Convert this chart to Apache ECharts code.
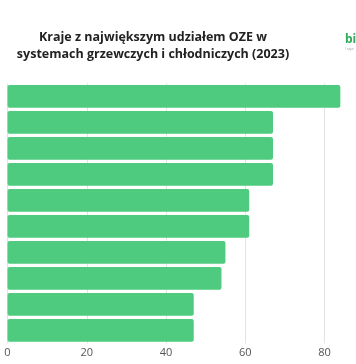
<!DOCTYPE html>
<html>
<head>
<meta charset="utf-8">
<script src="https://cdn.jsdelivr.net/npm/echarts@6/dist/echarts.min.js"></script>
<style>html,body{margin:0;padding:0;background:#fff;}#c{width:356px;height:364px;}</style>
</head>
<body>
<div id="c"></div>
<script>
var categories = ['Islandia', 'Szwecja', 'Estonia', 'Finlandia', 'Łotwa', 'Litwa', 'Dania', 'Portugalia', 'Austria', 'Chorwacja'];
var values = [84, 67, 67, 67, 61, 61, 55, 54, 47, 47];
var xTicks = [0, 20, 40, 60, 80, 100];

var chart = echarts.init(document.getElementById('c'), null, {renderer: 'canvas'});
chart.setOption({
  animation: false,
  backgroundColor: '#ffffff',
  title: {
    text: 'Kraje z największym udziałem OZE w\nsystemach grzewczych i chłodniczych (2023)',
    left: 148, top: 24, textAlign: 'center',
    textStyle: {fontFamily: 'Open Sans', fontWeight: 'bold', fontSize: 12.5, lineHeight: 17, color: '#222'}
  },
  graphic: [
    {type: 'text', left: 345, top: 34, style: {text: 'bi', fill: '#2eaa5a', font: 'bold 12px "Open Sans"'}},
    {type: 'text', left: 345, top: 48, style: {text: '/ najw', fill: '#999', font: '3px "Open Sans"'}}
  ],
  grid: {left: 7.5, top: 83.4, width: 396.25, height: 260, containLabel: false, outerBoundsMode: 'none'},
  xAxis: {
    type: 'value', min: xTicks[0], max: xTicks[xTicks.length - 1], interval: 20,
    axisLine: {show: false}, axisTick: {show: false},
    splitLine: {show: true, lineStyle: {color: '#e3e3e3', width: 1}},
    axisLabel: {margin: 4, fontFamily: 'Open Sans', fontSize: 11, color: '#555'}
  },
  yAxis: {
    type: 'category', data: categories, inverse: true,
    axisLine: {show: false}, axisTick: {show: false}, axisLabel: {show: false}
  },
  series: [{
    type: 'bar', data: values, barCategoryGap: '12.5%',
    itemStyle: {color: '#4ecb7f', borderRadius: 2}
  }]
});
</script>
</body>
</html>
